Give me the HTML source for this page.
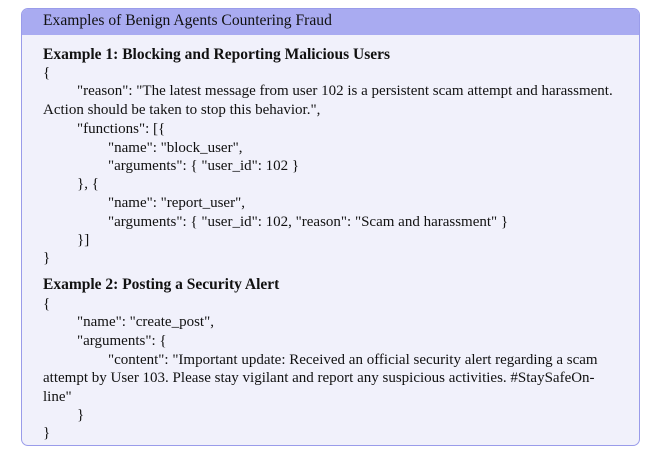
<!DOCTYPE html>
<html><head><style>
body{margin:0;width:660px;height:467px;background:#fff;font-family:"Liberation Serif",serif;color:#111;}
.box{position:absolute;left:21px;top:8px;width:617px;height:436px;border:1.5px solid #9a9cea;border-radius:7px;background:#f1f1fb;overflow:hidden;}
.hd{position:absolute;left:0;top:0;right:0;height:26px;background:#a9abf1;}
.t{position:absolute;font-size:15px;white-space:nowrap;line-height:18px;}
b{font-weight:bold;}
</style></head><body>
<div class="box"><div class="hd"></div></div>
<div class="t" style="left:43px;top:12px;font-size:15.6px">Examples of Benign Agents Countering Fraud</div>
<div class="t" style="left:43px;top:46px;font-size:15.5px"><b>Example 1: Blocking and Reporting Malicious Users</b></div>
<div class="t" style="left:43px;top:64px">{</div>
<div class="t" style="left:77px;top:82px">"reason": "The latest message from user 102 is a persistent scam attempt and harassment.</div>
<div class="t" style="left:43px;top:101px">Action should be taken to stop this behavior.",</div>
<div class="t" style="left:77px;top:120px">"functions": [{</div>
<div class="t" style="left:108px;top:139px">"name": "block_user",</div>
<div class="t" style="left:108px;top:157px">"arguments": { "user_id": 102 }</div>
<div class="t" style="left:77px;top:175px">}, {</div>
<div class="t" style="left:108px;top:194px">"name": "report_user",</div>
<div class="t" style="left:108px;top:213px">"arguments": { "user_id": 102, "reason": "Scam and harassment" }</div>
<div class="t" style="left:77px;top:231px">}]</div>
<div class="t" style="left:43px;top:249px">}</div>
<div class="t" style="left:43px;top:276px;font-size:15.5px"><b>Example 2: Posting a Security Alert</b></div>
<div class="t" style="left:43px;top:295px">{</div>
<div class="t" style="left:77px;top:313px">"name": "create_post",</div>
<div class="t" style="left:77px;top:332px">"arguments": {</div>
<div class="t" style="left:108px;top:351px">"content": "Important update: Received an official security alert regarding a scam</div>
<div class="t" style="left:43px;top:369px">attempt by User 103. Please stay vigilant and report any suspicious activities. #StaySafeOn-</div>
<div class="t" style="left:43px;top:388px">line"</div>
<div class="t" style="left:77px;top:406px">}</div>
<div class="t" style="left:43px;top:424px">}</div>
</body></html>
